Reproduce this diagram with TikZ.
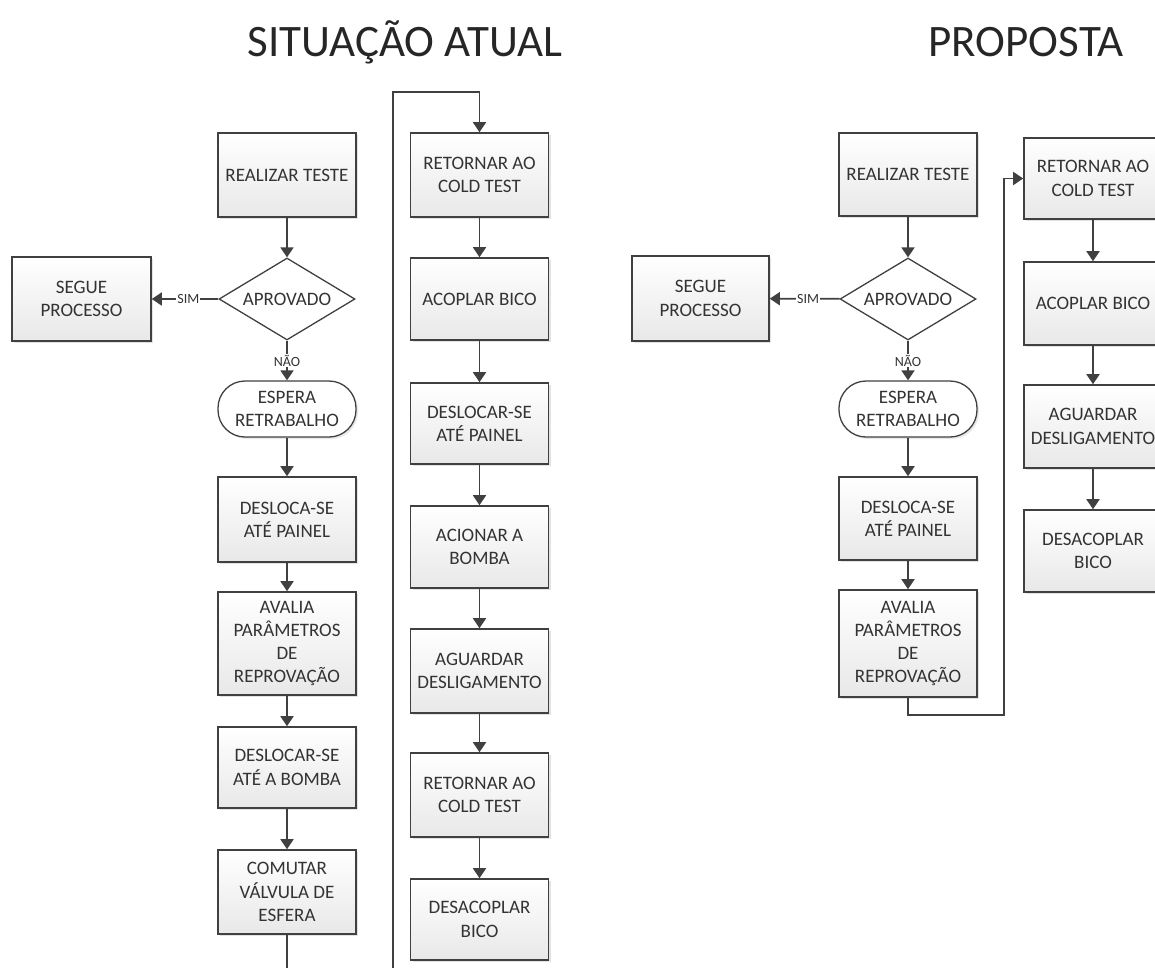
\documentclass[tikz,border=0pt]{standalone}
\usepackage{fontspec}
\setmainfont{Carlito}
\usepackage{tikz}
\usetikzlibrary{shapes.geometric,arrows.meta,shadows}

\definecolor{contorno}{HTML}{404040}
\definecolor{texto}{HTML}{333333}

\tikzset{
	caixa/.style={draw=contorno, line width=1.6pt, top color=white, bottom color=black!9,
		minimum width=138pt, minimum height=84pt, inner sep=2pt, align=center,
		text=texto, font=\fontsize{19}{23.3}\selectfont,
		drop shadow={shadow xshift=2pt, shadow yshift=-2pt, opacity=0.22}},
	decisao/.style={diamond, draw=contorno, line width=1.3pt, fill=white, aspect=1.66,
		minimum width=136pt, minimum height=82pt, inner sep=0pt,
		text=texto, font=\fontsize{19}{23.3}\selectfont},
	terminal/.style={draw=contorno, line width=1.3pt, fill=white, rounded corners=27pt,
		minimum width=138pt, minimum height=56pt, inner sep=2pt, align=center,
		text=texto, font=\fontsize{19}{23.3}\selectfont,
		drop shadow={shadow xshift=2pt, shadow yshift=-2pt, opacity=0.18}},
	rotulo/.style={fill=white, inner sep=1pt, text=texto, font=\fontsize{14}{15}\selectfont},
	seta/.style={draw=contorno, line width=1.8pt, -{Triangle[width=13pt,length=10pt]}},
	titulo/.style={text=black!85, font=\fontsize{45}{50}\selectfont}
}

\begin{document}
\begin{tikzpicture}[x=1pt,y=-1pt]
				\useasboundingbox (0,0) rectangle (1155,967);
				\node[titulo] (tatual) at (405,42) {SITUAÇÃO ATUAL};
				\node[titulo] (tprop) at (1026,42) {PROPOSTA};
				
				% situacao atual
				\node[caixa] (teste) at (287,175) {REALIZAR TESTE};
				\node[decisao] (aprov) at (287,299) {APROVADO};
				\node[caixa, minimum width=139pt] (segue) at (81.5,299) {SEGUE\\PROCESSO};
				\node[terminal] (espera) at (287,409) {ESPERA\\RETRABALHO};
				\node[caixa, minimum height=85pt] (desloca) at (287,519.5) {DESLOCA-SE\\ATÉ PAINEL};
				\node[caixa, minimum height=103pt] (avalia) at (287,643.5) {AVALIA\\PARÂMETROS\\DE\\REPROVAÇÃO};
				\node[caixa, minimum height=81pt] (bomba) at (287,767.5) {DESLOCAR-SE\\ATÉ A BOMBA};
				\node[caixa] (comutar) at (287,892) {COMUTAR\\VÁLVULA DE\\ESFERA};
				
				\node[caixa] (ret) at (479.5,175) {RETORNAR AO\\COLD TEST};
				\node[caixa, minimum height=82pt] (acoplar) at (479.5,299) {ACOPLAR BICO};
				\node[caixa, minimum height=81pt] (painel) at (479.5,423.5) {DESLOCAR-SE\\ATÉ PAINEL};
				\node[caixa, minimum height=82pt] (acionar) at (479.5,547) {ACIONAR A\\BOMBA};
				\node[caixa] (aguardar) at (479.5,671) {AGUARDAR\\DESLIGAMENTO};
				\node[caixa] (retb) at (479.5,795) {RETORNAR AO\\COLD TEST};
				\node[caixa, minimum height=81pt] (desacoplar) at (479.5,919.5) {DESACOPLAR\\BICO};
				
				\coordinate (voltaA) at (393,990);
				\coordinate (voltaB) at (393,92);
				
				\draw[seta] (teste) -- (aprov);
				\draw[seta] (aprov) -- node[rotulo, pos=0.45] (sim) {SIM} (segue);
				\draw[seta] (aprov) -- node[rotulo, pos=0.5] (nao) {NÃO} (espera);
				\draw[seta] (espera) -- (desloca);
				\draw[seta] (desloca) -- (avalia);
				\draw[seta] (avalia) -- (bomba);
				\draw[seta] (bomba) -- (comutar);
				\draw[seta] (comutar.south) |- (voltaA) -- (voltaB) -| (ret.north);
				\draw[seta] (ret) -- (acoplar);
				\draw[seta] (acoplar) -- (painel);
				\draw[seta] (painel) -- (acionar);
				\draw[seta] (acionar) -- (aguardar);
				\draw[seta] (aguardar) -- (retb);
				\draw[seta] (retb) -- (desacoplar);
				
				% proposta
				\node[caixa, minimum height=83pt] (teste2) at (908,174.5) {REALIZAR TESTE};
				\node[decisao] (aprov2) at (908,299) {APROVADO};
				\node[caixa, minimum width=137pt, minimum height=85pt] (segue2) at (700.5,298.5) {SEGUE\\PROCESSO};
				\node[terminal] (espera2) at (908,409) {ESPERA\\RETRABALHO};
				\node[caixa, minimum height=83pt] (desloca2) at (908,518.5) {DESLOCA-SE\\ATÉ PAINEL};
				\node[caixa, minimum height=107pt] (avalia2) at (908,643.5) {AVALIA\\PARÂMETROS\\DE\\REPROVAÇÃO};
				
				\node[caixa, minimum height=81pt] (ret2) at (1093,178.5) {RETORNAR AO\\COLD TEST};
				\node[caixa, minimum height=83pt] (acoplar2) at (1093,303.5) {ACOPLAR BICO};
				\node[caixa, minimum height=83pt] (aguardar2) at (1093,426.5) {AGUARDAR\\DESLIGAMENTO};
				\node[caixa, minimum height=82pt] (desacoplar2) at (1093,551) {DESACOPLAR\\BICO};
				
				\coordinate (voltaC) at (1004,715);
				
				\draw[seta] (teste2) -- (aprov2);
				\draw[seta] (aprov2) -- node[rotulo, pos=0.45] (sim2) {SIM} (segue2);
				\draw[seta] (aprov2) -- node[rotulo, pos=0.5] (nao2) {NÃO} (espera2);
				\draw[seta] (espera2) -- (desloca2);
				\draw[seta] (desloca2) -- (avalia2);
				\draw[seta] (avalia2.south) |- (voltaC) |- (ret2.west);
				\draw[seta] (ret2) -- (acoplar2);
				\draw[seta] (acoplar2) -- (aguardar2);
				\draw[seta] (aguardar2) -- (desacoplar2);
			\end{tikzpicture}
\end{document}
